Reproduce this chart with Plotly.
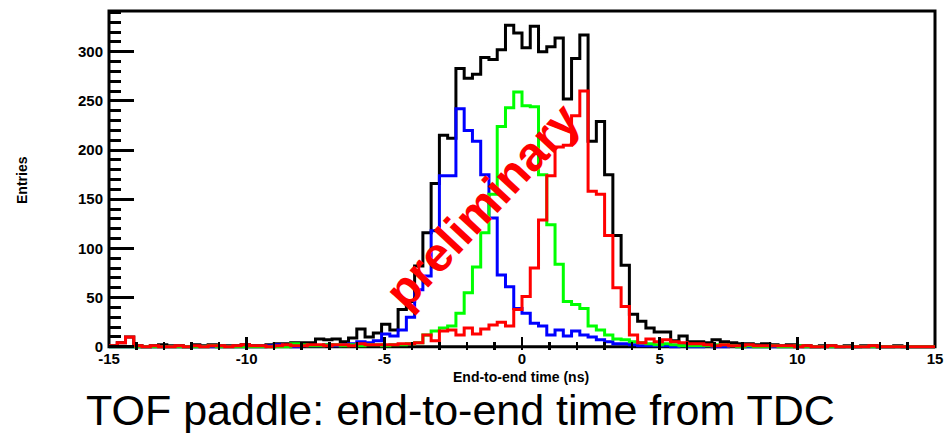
import numpy as np
import plotly.graph_objects as go

# ---------------- data (100 bins, -15 ns .. 15 ns) ----------------
BIN_LOW = -15.0
BIN_WIDTH = 0.3

black = [1, 4, 10, 1, 0, 1, 2, 1, 1, 0,
         2, 1, 2, 1, 1, 1, 2, 1, 1, 2,
         3, 3, 4, 4, 4, 8, 7, 8, 5, 9,
         18, 10, 14, 23, 17, 38, 46, 82, 116, 166,
         215, 212, 283, 273, 277, 294, 292, 302, 327, 319,
         304, 326, 300, 305, 314, 252, 293, 317, 209, 229,
         175, 113, 83, 33, 26, 19, 15, 15, 6, 11,
         5, 5, 4, 7, 5, 4, 3, 3, 2, 3,
         2, 1, 2, 1, 1, 0, 1, 1, 0, 1,
         0, 1, 1, 0, 0, 1, 0, 0, 0, 0]

blue = [0, 0, 0, 0, 0, 0, 0, 0, 0, 0,
        0, 0, 0, 0, 0, 0, 0, 0, 0, 1,
        2, 1, 0, 1, 1, 1, 2, 1, 2, 3,
        5, 4, 6, 13, 11, 17, 30, 58, 72, 118,
        174, 174, 242, 220, 209, 175, 131, 73, 61, 39,
        34, 24, 21, 12, 17, 11, 16, 12, 10, 7,
        5, 3, 3, 2, 1, 1, 1, 1, 0, 1,
        0, 0, 1, 0, 0, 1, 0, 0, 0, 0,
        0, 0, 0, 0, 0, 0, 0, 0, 0, 0,
        0, 0, 0, 0, 0, 0, 0, 0, 0, 0]

green = [0, 0, 0, 0, 0, 0, 0, 0, 0, 0,
         0, 0, 1, 0, 0, 0, 0, 0, 0, 0,
         0, 0, 3, 2, 1, 1, 2, 2, 1, 2,
         1, 2, 2, 1, 2, 2, 3, 4, 12, 16,
         19, 21, 34, 55, 81, 116, 155, 224, 243, 259,
         245, 244, 175, 124, 84, 46, 43, 39, 21, 17,
         12, 8, 7, 5, 4, 3, 2, 3, 2, 1,
         1, 1, 1, 2, 2, 1, 0, 1, 0, 0,
         1, 0, 0, 1, 0, 0, 0, 0, 0, 0,
         0, 0, 0, 0, 0, 0, 0, 0, 0, 0]

red = [1, 4, 10, 1, 0, 1, 0, 0, 1, 0,
       1, 0, 1, 1, 0, 1, 2, 1, 1, 0,
       1, 2, 1, 1, 2, 2, 1, 2, 2, 1,
       3, 2, 2, 2, 2, 3, 3, 4, 12, 6,
       16, 17, 12, 19, 13, 18, 22, 25, 21, 38,
       51, 80, 129, 174, 203, 205, 235, 260, 158, 155,
       113, 60, 41, 12, 4, 8, 5, 7, 5, 4,
       3, 3, 2, 1, 2, 1, 1, 2, 1, 1,
       1, 1, 1, 0, 1, 0, 0, 1, 0, 0,
       0, 0, 1, 0, 0, 0, 0, 0, 0, 0]

series = [("black", black), ("#0000ff", blue), ("#00ff00", green), ("#ff0000", red)]

x_tick_vals = [-15, -10, -5, 0, 5, 10, 15]
x_tick_text = ["-15", "-10", "-5", "0", "5", "10", "15"]
y_tick_vals = [0, 50, 100, 150, 200, 250, 300]
y_tick_text = ["0", "50", "100", "150", "200", "250", "300"]

x_title = "End-to-end time (ns)"
y_title = "Entries"
caption = "TOF paddle: end-to-end time from TDC"
stamp = "preliminary"

# ---------------- styling ----------------
X_RANGE = [-15, 15]
Y_RANGE = [-3.3, 341.4]
FONT = "Liberation Sans, Arial, sans-serif"

edges = BIN_LOW + BIN_WIDTH * np.arange(len(black) + 1)

fig = go.Figure()
for color, vals in series:
    fig.add_trace(go.Scatter(
        x=edges, y=list(vals) + [vals[-1]],
        mode="lines", line=dict(color=color, width=3, shape="hv"),
        showlegend=False, hoverinfo="skip"))

frac0 = (0 - Y_RANGE[0]) / (Y_RANGE[1] - Y_RANGE[0])

fig.update_layout(
    width=944, height=433,
    margin=dict(l=109, r=9, t=11, b=83, autoexpand=False),
    paper_bgcolor="white", plot_bgcolor="white",
    xaxis=dict(range=X_RANGE, showgrid=False, zeroline=False, showline=False,
               automargin=False,
               tickmode="array", tickvals=x_tick_vals, ticktext=x_tick_text,
               ticks="inside", ticklen=13, tickwidth=2.5, tickcolor="black",
               ticklabelstandoff=-2,
               minor=dict(tickmode="linear", tick0=-15, dtick=1, ticks="inside",
                          ticklen=8, tickwidth=2.5, tickcolor="black", showgrid=False),
               tickfont=dict(family=FONT, size=15, color="black", weight="bold")),
    yaxis=dict(range=Y_RANGE, showgrid=False, zeroline=False, showline=False,
               automargin=False,
               tickmode="array", tickvals=y_tick_vals, ticktext=y_tick_text,
               ticks="inside", ticklen=25, tickwidth=3, tickcolor="black",
               ticklabelstandoff=5,
               minor=dict(tickmode="linear", tick0=0, dtick=10, ticks="inside",
                          ticklen=12, tickwidth=3, tickcolor="black", showgrid=False),
               tickfont=dict(family=FONT, size=15, color="black", weight="bold")),
    shapes=[dict(type="rect", xref="paper", yref="paper", x0=0, x1=1, y0=frac0, y1=1,
                 line=dict(color="black", width=3), layer="below")],
    annotations=[
        dict(text=x_title, xref="paper", yref="paper", x=0.4988, y=-0.0796,
             xanchor="center", yanchor="middle", showarrow=False,
             font=dict(family=FONT, size=14, color="black", weight="bold")),
        dict(text=y_title, xref="paper", yref="paper", x=-0.1053, y=0.5015,
             xanchor="center", yanchor="middle", showarrow=False, textangle=-90,
             font=dict(family=FONT, size=14, color="black", weight="bold")),
        dict(text=caption, xref="paper", yref="paper", x=0.425, y=-0.177,
             xanchor="center", yanchor="middle", showarrow=False,
             font=dict(family=FONT, size=43, color="black")),
        dict(text=stamp, xref="paper", yref="paper", x=0.452, y=0.425,
             xanchor="center", yanchor="middle", showarrow=False, textangle=-47,
             font=dict(family=FONT, size=48, color="#ff0000", weight="bold")),
    ],
)

fig.write_html("out.html",
               config={"displayModeBar": False, "staticPlot": True},
               post_script="document.body.style.margin='0';document.body.style.overflow='hidden';")
